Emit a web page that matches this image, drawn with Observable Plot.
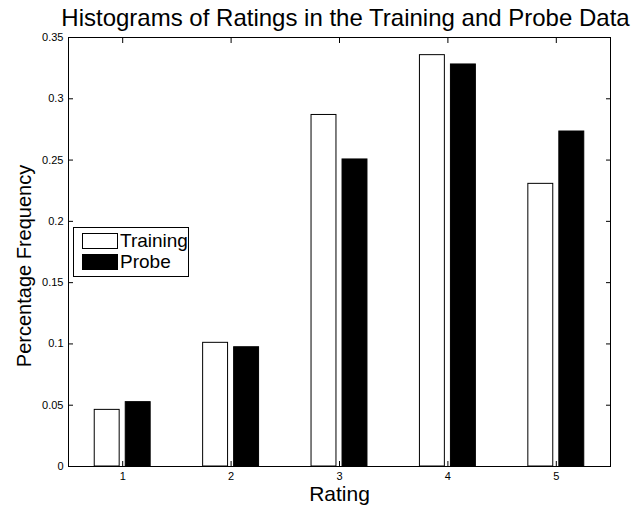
<!DOCTYPE html>
<html>
<head>
<meta charset="utf-8">
<script src="https://cdn.jsdelivr.net/npm/d3@7"></script>
<script src="https://cdn.jsdelivr.net/npm/@observablehq/plot@0.6"></script>
<style>
  html, body { margin: 0; padding: 0; background: #fff; }
  #wrap { position: relative; width: 640px; height: 508px; font-family: "Liberation Sans", Arial, sans-serif; }
  #wrap svg { position: absolute; left: 0; top: 0; }
  #legend { position: absolute; left: 73px; top: 227px; width: 114px; height: 48px; border: 1px solid #000; background: #fff; }
  .sw { position: absolute; left: 8px; width: 34px; height: 14px; border: 1px solid #000; }
  .lt { position: absolute; left: 46px; font-size: 19px; line-height: 19px; color: #000; }
</style>
</head>
<body>
<div id="wrap"></div>
<script>
const titleText = "Histograms of Ratings in the Training and Probe Data";
const xLabel = "Rating";
const yLabel = "Percentage Frequency";
const ratings = [1, 2, 3, 4, 5];
const training = [0.0462, 0.1009, 0.2868, 0.3356, 0.2306];
const probe = [0.0525, 0.0973, 0.2505, 0.3280, 0.2733];
const yTicks = [0, 0.05, 0.1, 0.15, 0.2, 0.25, 0.3, 0.35];
const seriesNames = ["Training", "Probe"];

const half = 0.115, off = 0.143;
const rows = [];
ratings.forEach((r, i) => {
  rows.push({r, s: "Training", v: training[i], x1: r - off - half, x2: r - off + half});
  rows.push({r, s: "Probe", v: probe[i], x1: r + off - half, x2: r + off + half});
});

const chart = Plot.plot({
  width: 640, height: 508,
  marginTop: 37, marginBottom: 42, marginLeft: 68, marginRight: 30,
  style: {fontFamily: '"Liberation Sans", Arial, sans-serif', fontSize: "11px", color: "#000", background: "transparent"},
  x: {domain: [0.5, 5.5]},
  y: {domain: [0, 0.35]},
  marks: [
    Plot.rect(rows, {x1: "x1", x2: "x2", y1: 0, y2: "v",
      fill: d => d.s === "Training" ? "#fff" : "#000", stroke: "#000", strokeWidth: 1}),
    Plot.frame({stroke: "#000", strokeWidth: 1}),
    Plot.axisX({anchor: "bottom", ticks: ratings, tickSize: 0, tickPadding: 6, tickFormat: d => String(d), label: null, fontSize: 11}),
    Plot.axisX({anchor: "bottom", ticks: ratings, tickSize: -5, tickFormat: () => "", label: null}),
    Plot.axisX({anchor: "top", ticks: ratings, tickSize: -5, tickFormat: () => "", label: null}),
    Plot.axisY({anchor: "left", ticks: yTicks, tickSize: 0, tickPadding: 5, tickFormat: d => String(d), label: null, fontSize: 11}),
    Plot.axisY({anchor: "left", ticks: yTicks, tickSize: -5, tickFormat: () => "", label: null}),
    Plot.axisY({anchor: "right", ticks: yTicks, tickSize: -5, tickFormat: () => "", label: null}),
    Plot.text([titleText], {text: d => d, frameAnchor: "top", lineAnchor: "middle", textAnchor: "middle", dx: 6, dy: -19, fontSize: 24, fill: "#000"}),
    Plot.text([xLabel], {text: d => d, frameAnchor: "bottom", lineAnchor: "middle", textAnchor: "middle", dy: 28, fontSize: 21, fill: "#000"}),
    Plot.text([yLabel], {text: d => d, frameAnchor: "left", lineAnchor: "middle", textAnchor: "middle", dx: -44, dy: 14, rotate: -90, fontSize: 20, fill: "#000"})
  ]
});
const wrap = document.getElementById("wrap");
wrap.appendChild(chart);

const legend = document.createElement("div");
legend.id = "legend";
const fills = ["#fff", "#000"];
seriesNames.forEach((name, i) => {
  const sw = document.createElement("div");
  sw.className = "sw";
  sw.style.top = (5 + i * 21) + "px";
  sw.style.background = fills[i];
  legend.appendChild(sw);
  const t = document.createElement("div");
  t.className = "lt";
  t.style.top = (3 + i * 21) + "px";
  t.textContent = name;
  legend.appendChild(t);
});
wrap.appendChild(legend);
</script>
</body>
</html>
